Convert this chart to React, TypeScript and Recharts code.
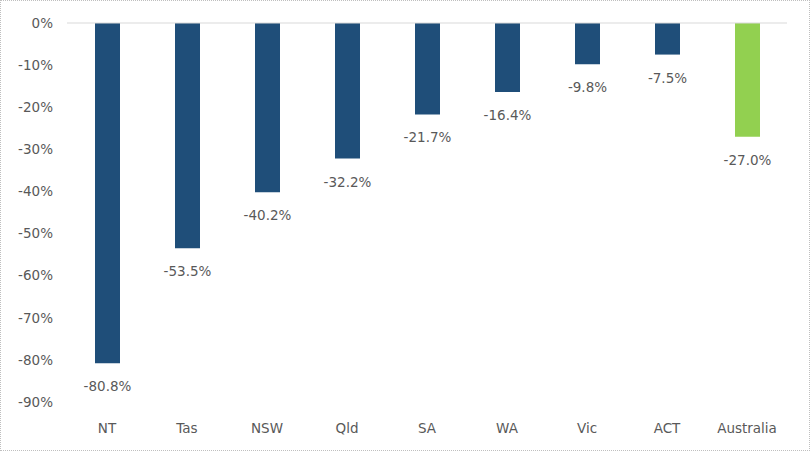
import { Bar, BarChart, Cell, LabelList, ReferenceLine, XAxis, YAxis } from 'recharts';

const NAVY = '#1f4e79';
const GREEN = '#92d050';
const TEXT = '#595959';
const FONT = 'DejaVu Sans';

const regions = ['NT', 'Tas', 'NSW', 'Qld', 'SA', 'WA', 'Vic', 'ACT', 'Australia'];
const change = [-80.8, -53.5, -40.2, -32.2, -21.7, -16.4, -9.8, -7.5, -27.0];
const yTicks = [0, -10, -20, -30, -40, -50, -60, -70, -80, -90];

const data = regions.map((region, i) => ({ region, change: change[i] }));

function BelowLabel(props: any) {
  const { x, y, width, height, value } = props;
  const bottom = Math.max(y, y + height);
  return (
    <text x={x + width / 2} y={bottom + 28} textAnchor="middle" fill={TEXT} fontSize={13.5} fontFamily={FONT}>
      {`${Number(value).toFixed(1)}%`}
    </text>
  );
}

export default function App() {
  return (
    <div style={{ position: 'absolute', left: 0, top: 0, width: 810, height: 451, background: '#fff' }}>
      <div style={{ position: 'absolute', inset: 0, border: '1px dotted #bfbfbf', boxSizing: 'border-box' }} />
      <BarChart width={810} height={451} data={data} margin={{ top: 23, right: 23, bottom: 0, left: 0 }} barSize={25}>
        <XAxis
          dataKey="region"
          axisLine={false}
          tickLine={false}
          height={49}
          tick={{ fontSize: 13.5, fill: TEXT, fontFamily: FONT }}
          dy={13}
        />
        <YAxis
          domain={[-90, 0]}
          ticks={yTicks}
          width={67}
          axisLine={false}
          tickLine={false}
          interval={0}
          tickFormatter={(v) => `${v}%`}
          tick={{ fontSize: 13.5, fill: TEXT, fontFamily: FONT }}
          dx={-6}
        />
        <ReferenceLine y={0} stroke="#d9d9d9" strokeWidth={1} />
        <Bar dataKey="change" isAnimationActive={false}>
          {data.map((d) => (
            <Cell key={d.region} fill={d.region === 'Australia' ? GREEN : NAVY} />
          ))}
          <LabelList dataKey="change" content={BelowLabel} />
        </Bar>
      </BarChart>
    </div>
  );
}
